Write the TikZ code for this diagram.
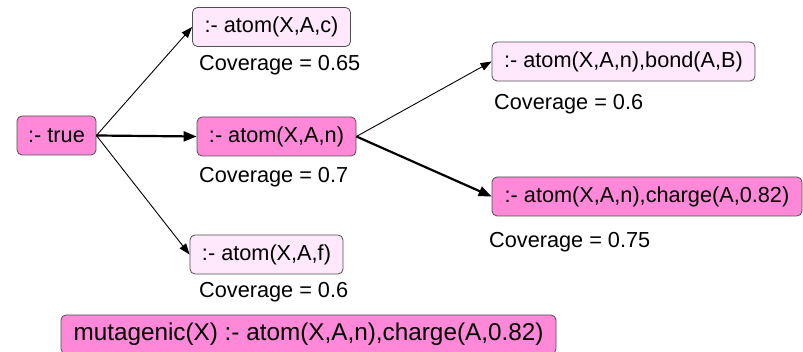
\documentclass[tikz,border=0pt]{standalone}
\usepackage{fontspec}
\setmainfont{Liberation Sans}
\usetikzlibrary{arrows.meta}
\definecolor{pinkdark}{RGB}{255,136,217}
\definecolor{pinklight}{RGB}{255,232,252}
\definecolor{edgegray}{RGB}{80,80,80}
\tikzset{
  box/.style={draw=edgegray, line width=0.8pt, rounded corners=5pt, minimum height=39pt,
    inner sep=0pt, align=center, font=\fontsize{21.7}{26}\selectfont, text=black},
  hot/.style={box, fill=pinkdark},
  cold/.style={box, fill=pinklight},
  cov/.style={anchor=base west, inner sep=0pt, font=\fontsize{21.7}{26}\selectfont},
  thin arrow/.style={-{Triangle[length=11pt,width=8pt]}, line width=0.9pt},
  thick arrow/.style={-{Triangle[length=13pt,width=10pt]}, line width=2.2pt},
}
\begin{document}
\begin{tikzpicture}[x=1pt,y=-1pt]
\useasboundingbox (0,0) rectangle (803,352);
\node[hot, minimum width=79pt] (true) at (56.5,135.5) {:- true};
\node[cold, minimum width=158pt] (c) at (271.5,27) {:- atom(X,A,c)};
\node[hot, minimum width=159pt] (n) at (276.5,136.5) {:- atom(X,A,n)};
\node[cold, minimum width=153pt] (f) at (266.5,254.5) {:- atom(X,A,f)};
\node[cold, minimum width=263pt] (bond) at (623.5,61.5) {:- atom(X,A,n),bond(A,B)};
\node[hot, minimum width=310pt] (charge) at (647,196.5) {:- atom(X,A,n),charge(A,0.82)};
\node[hot, minimum width=495pt, font=\fontsize{24.3}{29}\selectfont] (rule) at (308.5,334.5) {mutagenic(X) :- atom(X,A,n),charge(A,0.82)};

\node[cov] (cc) at (199,70.5) {Coverage = 0.65};
\node[cov] (cn) at (199,183) {Coverage = 0.7};
\node[cov] (cf) at (199,298) {Coverage = 0.6};
\node[cov] (cb) at (494,109.5) {Coverage = 0.6};
\node[cov] (cch) at (489,247.5) {Coverage = 0.75};

\draw[thin arrow] (true.east) -- (c.west);
\draw[thin arrow] (true.east) -- (f.west);
\draw[thick arrow] (true.east) -- (n.west);
\draw[thin arrow] (n.east) -- (bond.west);
\draw[thick arrow] (n.east) -- (charge.west);
\end{tikzpicture}
\end{document}
